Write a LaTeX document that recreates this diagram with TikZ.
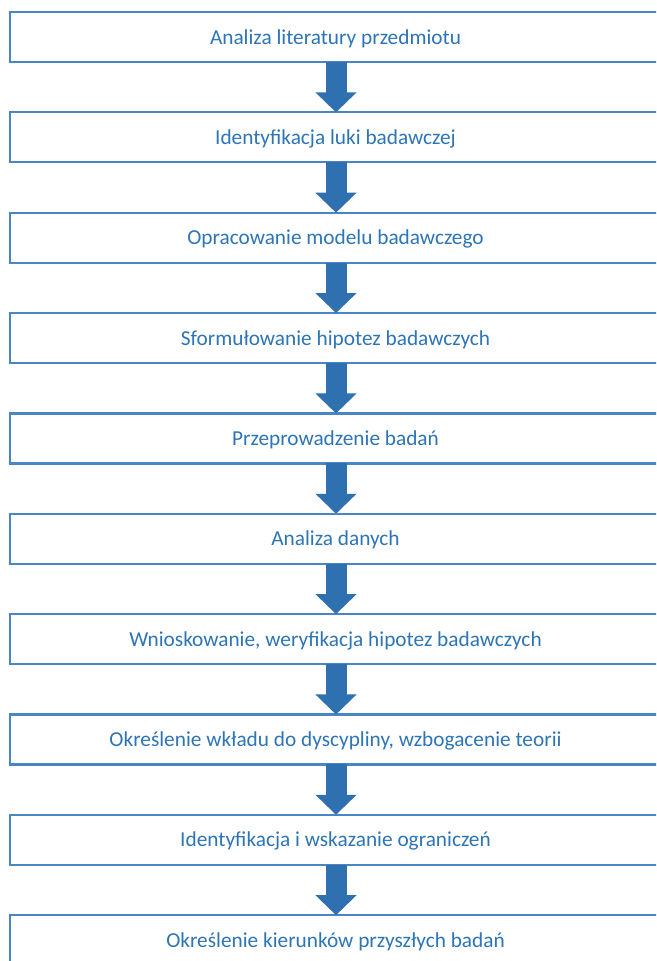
\documentclass[tikz,border=0pt]{standalone}
\usepackage{fontspec}
\setmainfont{Carlito}
\usetikzlibrary{arrows.meta}
\definecolor{boxline}{RGB}{74,134,197}
\definecolor{boxtext}{RGB}{46,117,182}
\definecolor{arrowfill}{RGB}{46,112,176}
\tikzset{
  stagebox/.style={draw=boxline, line width=2.2pt, fill=white, rectangle,
    anchor=north west, minimum width=652pt, minimum height=50pt,
    inner sep=0pt, outer sep=0pt},
  stagetext/.style={text=boxtext, inner sep=0pt,
    font=\fontsize{21.3}{25}\selectfont},
  flowarrow/.style={draw=arrowfill, line width=21pt,
    -{Triangle[width=40pt,length=20pt,fill=arrowfill]}}
}
\begin{document}
\begin{tikzpicture}[x=1pt,y=-1pt]
\useasboundingbox (0,0) rectangle (656,961);
\clip (0,0) rectangle (656,961);
\fill[white] (0,0) rectangle (656,961);
\foreach \i/\t in {1/Analiza literatury przedmiotu,
                   2/Identyfikacja luki badawczej,
                   3/Opracowanie modelu badawczego,
                   4/Sformułowanie hipotez badawczych,
                   5/Przeprowadzenie badań,
                   6/Analiza danych,
                   7/{Wnioskowanie, weryfikacja hipotez badawczych},
                   8/{Określenie wkładu do dyscypliny, wzbogacenie teorii},
                   9/Identyfikacja i wskazanie ograniczeń,
                   10/Określenie kierunków przyszłych badań} {
  \node[stagebox] (b\i) at (10, {12+100.35*(\i-1)}) {};
  \node[stagetext] (t\i) at (335.5, {38.5+100.35*(\i-1)}) {\t};
}
\foreach \i [evaluate=\i as \j using int(\i+1)] in {1,...,9} {
  \draw[flowarrow] (b\i.south) -- (b\j.north);
}
\end{tikzpicture}
\end{document}
